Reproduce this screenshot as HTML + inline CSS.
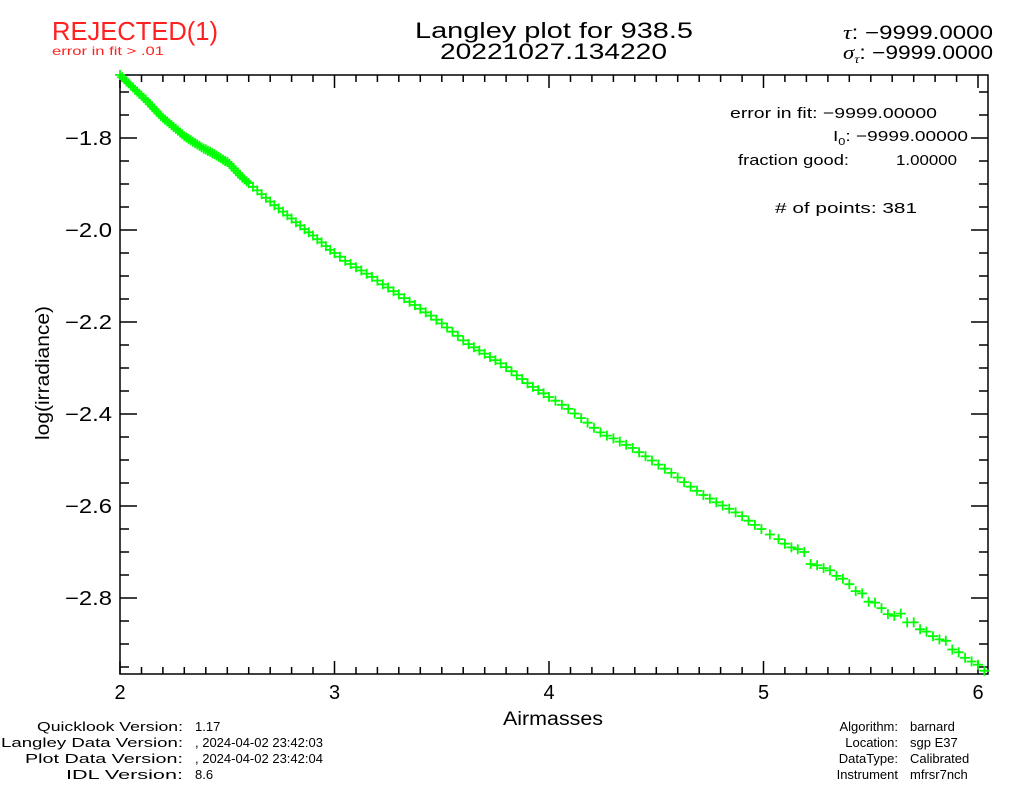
<!DOCTYPE html>
<html><head><meta charset="utf-8"><style>
html,body{margin:0;padding:0;background:#fff;}
svg{display:block;font-family:"Liberation Sans",sans-serif;}
text{font-weight:300;}
</style></head><body>
<svg id="chart" width="1024" height="786" viewBox="0 0 1024 786">
<g>
<text x="52" y="40" font-size="26" fill="#ff2020" textLength="166" lengthAdjust="spacingAndGlyphs">REJECTED(1)</text>
<text x="52" y="55" font-size="12" fill="#ff2020" textLength="112" lengthAdjust="spacingAndGlyphs">error in fit &gt; .01</text>
<text x="415" y="38" font-size="22" textLength="278" lengthAdjust="spacingAndGlyphs" fill="#000">Langley plot for 938.5</text>
<text x="440" y="59" font-size="22" textLength="227" lengthAdjust="spacingAndGlyphs" fill="#000">20221027.134220</text>
<text x="843" y="39" font-size="19" textLength="150" lengthAdjust="spacingAndGlyphs" fill="#000"><tspan font-style="italic" font-family="Liberation Serif">τ</tspan>: −9999.0000</text>
<text x="843" y="59" font-size="19" textLength="150" lengthAdjust="spacingAndGlyphs" fill="#000"><tspan font-style="italic" font-family="Liberation Serif">σ</tspan><tspan font-size="12" dy="4" font-style="italic" font-family="Liberation Serif">τ</tspan><tspan dy="-4">: −9999.0000</tspan></text>
</g>
<g font-size="15" fill="#000">
<text x="730" y="118" textLength="207" lengthAdjust="spacingAndGlyphs">error in fit: −9999.00000</text>
<text x="833" y="141" textLength="135" lengthAdjust="spacingAndGlyphs">I<tspan font-size="10" dy="4">0</tspan><tspan dy="-4">: −9999.00000</tspan></text>
<text x="738" y="165" textLength="111" lengthAdjust="spacingAndGlyphs">fraction good:</text>
<text x="896" y="165" textLength="61" lengthAdjust="spacingAndGlyphs">1.00000</text>
<text x="775" y="213" textLength="142" lengthAdjust="spacingAndGlyphs"># of points:  381</text>
</g>
<g id="axes"></g>
<g id="points"></g>
<text x="503" y="725" font-size="19" textLength="100" lengthAdjust="spacingAndGlyphs">Airmasses</text>
<text transform="translate(49,373) rotate(-90)" font-size="19" text-anchor="middle" textLength="134" lengthAdjust="spacingAndGlyphs">log(irradiance)</text>
<g font-size="13" fill="#000" lengthAdjust="spacingAndGlyphs">
<text x="37" y="731" textLength="146" lengthAdjust="spacingAndGlyphs">Quicklook Version:</text><text x="195" y="731">1.17</text>
<text x="1" y="747" textLength="182" lengthAdjust="spacingAndGlyphs">Langley Data Version:</text><text x="195" y="747">, 2024-04-02 23:42:03</text>
<text x="25" y="763" textLength="158" lengthAdjust="spacingAndGlyphs">Plot Data Version:</text><text x="195" y="763">, 2024-04-02 23:42:04</text>
<text x="66" y="779" textLength="117" lengthAdjust="spacingAndGlyphs">IDL Version:</text><text x="195" y="779">8.6</text>
</g>
<g font-size="13" fill="#000">
<text x="898" y="731" text-anchor="end">Algorithm:</text><text x="910" y="731">barnard</text>
<text x="898" y="747" text-anchor="end">Location:</text><text x="910" y="747">sgp E37</text>
<text x="898" y="763" text-anchor="end">DataType:</text><text x="910" y="763">Calibrated</text>
<text x="898" y="779" text-anchor="end">Instrument</text><text x="910" y="779">mfrsr7nch</text>
</g>
</svg>
<script>
const xTickLabels = ["2","3","4","5","6"];
const yTickLabels = ["−1.8","−2.0","−2.2","−2.4","−2.6","−2.8"];
const airmass = [2.00,2.01,2.02,2.03,2.04,2.05,2.06,2.07,2.08,2.09,2.10,2.11,2.12,2.13,2.14,2.15,2.16,2.17,2.18,2.19,2.20,2.21,2.22,2.23,2.24,2.25,2.26,2.27,2.28,2.29,2.30,2.31,2.32,2.33,2.34,2.35,2.36,2.37,2.38,2.39,2.40,2.41,2.42,2.43,2.44,2.45,2.46,2.47,2.48,2.49,2.50,2.51,2.52,2.53,2.54,2.55,2.56,2.57,2.58,2.59,2.60,
2.62,2.64,2.66,2.68,2.70,2.72,2.74,2.76,2.78,2.80,2.82,2.84,2.86,2.88,2.90,2.92,2.94,2.96,2.98,3.00,
3.025,3.05,3.075,3.10,3.125,3.15,3.175,3.20,3.225,3.25,3.275,3.30,3.325,3.35,3.375,3.40,3.425,3.45,3.475,3.50,3.525,3.55,3.575,3.60,3.625,3.65,3.675,3.70,3.725,3.75,3.775,3.80,3.825,3.85,3.875,3.90,3.925,3.95,3.975,4.00,
4.03,4.06,4.09,4.12,4.15,4.18,4.21,4.24,4.27,4.30,4.33,4.36,4.39,4.42,4.45,4.48,4.51,4.54,4.57,4.60,4.63,4.66,4.69,4.72,4.75,4.78,4.81,4.84,4.87,4.90,4.93,4.96,4.99,
5.03,5.07,5.10,5.13,5.16,5.19,5.22,5.25,5.28,5.31,5.34,5.37,5.40,5.43,5.46,5.49,5.52,5.55,5.58,5.61,5.64,5.67,5.70,5.73,5.76,5.79,5.82,5.85,5.88,5.91,5.94,5.97,6.00,6.03];
const logIrr = [-1.663,-1.668,-1.672,-1.677,-1.681,-1.686,-1.690,-1.695,-1.699,-1.704,-1.708,-1.713,-1.717,-1.722,-1.727,-1.732,-1.737,-1.742,-1.747,-1.752,-1.756,-1.760,-1.764,-1.768,-1.772,-1.776,-1.780,-1.784,-1.788,-1.792,-1.796,-1.799,-1.802,-1.805,-1.808,-1.811,-1.814,-1.817,-1.820,-1.823,-1.825,-1.828,-1.830,-1.833,-1.835,-1.838,-1.841,-1.844,-1.847,-1.850,-1.852,-1.856,-1.861,-1.866,-1.871,-1.876,-1.881,-1.886,-1.890,-1.894,-1.898,
-1.906,-1.914,-1.922,-1.930,-1.938,-1.946,-1.953,-1.960,-1.968,-1.975,-1.983,-1.990,-1.998,-2.005,-2.012,-2.020,-2.027,-2.035,-2.043,-2.050,
-2.058,-2.067,-2.074,-2.081,-2.088,-2.095,-2.102,-2.110,-2.118,-2.125,-2.133,-2.140,-2.148,-2.156,-2.163,-2.171,-2.179,-2.186,-2.195,-2.203,-2.212,-2.221,-2.230,-2.240,-2.248,-2.255,-2.262,-2.269,-2.276,-2.283,-2.290,-2.298,-2.307,-2.316,-2.324,-2.333,-2.341,-2.348,-2.355,-2.363,
-2.371,-2.380,-2.389,-2.399,-2.409,-2.419,-2.430,-2.440,-2.447,-2.453,-2.460,-2.467,-2.474,-2.483,-2.492,-2.501,-2.510,-2.519,-2.528,-2.538,-2.548,-2.558,-2.567,-2.576,-2.584,-2.592,-2.599,-2.606,-2.614,-2.622,-2.632,-2.641,-2.650,
-2.662,-2.672,-2.682,-2.690,-2.694,-2.700,-2.726,-2.729,-2.735,-2.740,-2.752,-2.758,-2.770,-2.785,-2.790,-2.808,-2.810,-2.822,-2.835,-2.839,-2.834,-2.853,-2.853,-2.868,-2.873,-2.883,-2.890,-2.893,-2.912,-2.918,-2.930,-2.938,-2.945,-2.958];

const NS="http://www.w3.org/2000/svg";
const L=120,R=988,T=75,B=674;
const xMin=2,xMax=2+(R-L)/214.5;
const yMax=-1.8+(138-T)/460,yMin=-1.8-(B-138)/460;
function sx(v){return L+(v-xMin)/(xMax-xMin)*(R-L);}
function sy(v){return T+(yMax-v)/(yMax-yMin)*(B-T);}
function mk(tag,attrs,parent){const e=document.createElementNS(NS,tag);for(const k in attrs)e.setAttribute(k,attrs[k]);parent.appendChild(e);return e;}
const axes=document.getElementById('axes');
const frame=mk('rect',{x:L,y:T,width:R-L,height:B-T,fill:'none',stroke:'#000','stroke-width':1.5},axes);


let d='';
for(let i=0;i<=41;i++){const v=2+i*0.1;if(v>xMax+1e-9)break;const x=sx(v).toFixed(1);const major=i%10===0;const len=major?13:7;d+=`M${x} ${B}V${B-len}M${x} ${T}V${T+len}`;}
for(let i=0;i<=26;i++){const v=-1.65-i*0.05;if(v>yMax||v<yMin)continue;const y=sy(v).toFixed(1);const major=Math.abs(Math.round(v*5)-v*5)<1e-6;const len=major?17:9;d+=`M${L} ${y}H${L+len}M${R} ${y}H${R-len}`;}
const ticks=mk('path',{d:d,stroke:'#000','stroke-width':1.5,fill:'none'},axes);


xTickLabels.forEach(function(s){const t=mk('text',{x:sx(parseFloat(s)),y:699,'font-size':20,'text-anchor':'middle'},axes);t.textContent=s;

});
yTickLabels.forEach(function(s){const v=parseFloat(s.replace('−','-'));const t=mk('text',{x:65,y:sy(v)+7,'font-size':20,textLength:47,lengthAdjust:'spacingAndGlyphs'},axes);t.textContent=s;

});
const pts=document.getElementById('points');
let pd='';
for(let i=0;i<airmass.length;i++){const x=sx(airmass[i]),y=sy(logIrr[i]);pd+=`M${(x-5).toFixed(1)} ${y.toFixed(1)}h10M${x.toFixed(1)} ${(y-5).toFixed(1)}v10`;}
const marks=mk('path',{d:pd,stroke:'#00ff00','stroke-width':1.8,fill:'none'},pts);


</script>
</body></html>
